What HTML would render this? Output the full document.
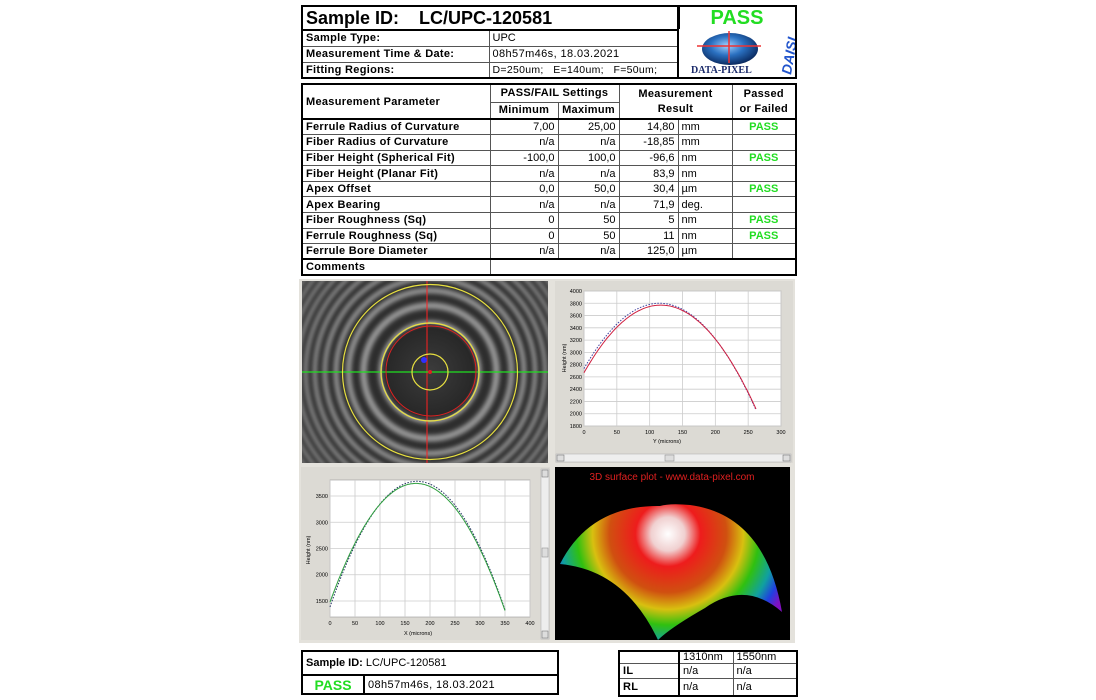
<!DOCTYPE html>
<html><head><meta charset="utf-8">
<style>
body{margin:0;width:1096px;height:700px;background:#fff;position:relative;overflow:hidden;font-family:"Liberation Sans",Arial,sans-serif;}
.a{position:absolute;}
table{border-collapse:collapse;table-layout:fixed;position:absolute;}
td{border:1px solid #555;padding:0 3px;font-size:11px;white-space:nowrap;overflow:hidden;line-height:14px;}
.b{font-weight:bold;letter-spacing:0.3px;}
.r{text-align:right;}
.c{text-align:center;}
.g{color:#22dd22;font-weight:bold;}
</style></head><body>

<table style="left:301px;top:5px;width:377px;border:2px solid #000;">
<colgroup><col style="width:187px"><col style="width:190px"></colgroup>
<tr style="height:24px"><td colspan="2" style="border-bottom:2px solid #000;font-size:18px;font-weight:bold;line-height:22px;">Sample ID:&nbsp;&nbsp;&nbsp;&nbsp;LC/UPC-120581</td></tr>
<tr style="height:16px"><td class="b">Sample Type:</td><td>UPC</td></tr>
<tr style="height:16px"><td class="b">Measurement Time &amp; Date:</td><td style="letter-spacing:0.4px">08h57m46s, 18.03.2021</td></tr>
<tr style="height:16px"><td class="b">Fitting Regions:</td><td style="font-size:10.5px;letter-spacing:0.3px">D=250um;&nbsp;&nbsp; E=140um;&nbsp;&nbsp; F=50um;</td></tr>
</table>
<div class="a" style="left:677px;top:5px;width:116px;height:22px;border:2px solid #000;text-align:center;font-size:20px;font-weight:bold;color:#22dd22;line-height:22px;">PASS</div>
<div class="a" style="left:677px;top:29px;width:116px;height:48px;border:2px solid #000;border-top:none;background:#fff;">
<svg width="116" height="48" viewBox="0 0 116 48">
<defs><radialGradient id="gl" cx="45%" cy="40%" r="60%"><stop offset="0" stop-color="#9fd0ff"/><stop offset="0.5" stop-color="#2a70c0"/><stop offset="1" stop-color="#0a2a60"/></radialGradient></defs>
<ellipse cx="51" cy="20" rx="28" ry="16" fill="url(#gl)"/>
<line x1="50" y1="2" x2="50" y2="34" stroke="#e33" stroke-width="1.5"/>
<line x1="18" y1="17" x2="82" y2="17" stroke="#e33" stroke-width="1.5"/>
<text x="12" y="44" font-family="Liberation Serif" font-weight="bold" font-size="10" fill="#1a2a6a">DATA-PIXEL</text>
<text transform="translate(112,46) rotate(-80)" font-family="Liberation Sans" font-style="italic" font-weight="bold" font-size="14" fill="#2255cc">DAISI</text>
</svg></div>

<table style="left:301px;top:83px;width:494px;border:2px solid #000;">
<colgroup><col style="width:188px"><col style="width:68px"><col style="width:61px"><col style="width:59px"><col style="width:54px"><col style="width:64px"></colgroup>
<tr style="height:18px"><td rowspan="2" class="b" style="border-bottom:2px solid #000">Measurement Parameter</td><td colspan="2" class="b c">PASS/FAIL Settings</td><td colspan="2" rowspan="2" class="b c" style="white-space:normal;line-height:15px;border-bottom:2px solid #000">Measurement<br>Result</td><td rowspan="2" class="b c" style="line-height:15px;border-bottom:2px solid #000">Passed<br>or Failed</td></tr>
<tr style="height:17px"><td class="b c" style="border-bottom:2px solid #000">Minimum</td><td class="b c" style="border-bottom:2px solid #000">Maximum</td></tr>
<tr style="height:15.6px"><td class="b">Ferrule Radius of Curvature</td><td class="r">7,00</td><td class="r">25,00</td><td class="r">14,80</td><td>mm</td><td class="c g">PASS</td></tr>
<tr style="height:15.6px"><td class="b">Fiber Radius of Curvature</td><td class="r">n/a</td><td class="r">n/a</td><td class="r">-18,85</td><td>mm</td><td></td></tr>
<tr style="height:15.6px"><td class="b">Fiber Height (Spherical Fit)</td><td class="r">-100,0</td><td class="r">100,0</td><td class="r">-96,6</td><td>nm</td><td class="c g">PASS</td></tr>
<tr style="height:15.6px"><td class="b">Fiber Height (Planar Fit)</td><td class="r">n/a</td><td class="r">n/a</td><td class="r">83,9</td><td>nm</td><td></td></tr>
<tr style="height:15.6px"><td class="b">Apex Offset</td><td class="r">0,0</td><td class="r">50,0</td><td class="r">30,4</td><td>µm</td><td class="c g">PASS</td></tr>
<tr style="height:15.6px"><td class="b">Apex Bearing</td><td class="r">n/a</td><td class="r">n/a</td><td class="r">71,9</td><td>deg.</td><td></td></tr>
<tr style="height:15.6px"><td class="b">Fiber Roughness (Sq)</td><td class="r">0</td><td class="r">50</td><td class="r">5</td><td>nm</td><td class="c g">PASS</td></tr>
<tr style="height:15.6px"><td class="b">Ferrule Roughness (Sq)</td><td class="r">0</td><td class="r">50</td><td class="r">11</td><td>nm</td><td class="c g">PASS</td></tr>
<tr style="height:15.6px"><td class="b" style="border-bottom:2px solid #000">Ferrule Bore Diameter</td><td class="r" style="border-bottom:2px solid #000">n/a</td><td class="r" style="border-bottom:2px solid #000">n/a</td><td class="r" style="border-bottom:2px solid #000">125,0</td><td style="border-bottom:2px solid #000">µm</td><td style="border-bottom:2px solid #000"></td></tr>
<tr style="height:16px"><td class="b">Comments</td><td colspan="5"></td></tr>
</table>

<div class="a" style="left:299px;top:279px;width:496px;height:364px;background:#e4e2dc;"></div>

<svg class="a" style="left:302px;top:281px" width="246" height="182" viewBox="302 281 246 182">
<defs><filter id="bl"><feGaussianBlur stdDeviation="2"/></filter>
<radialGradient id="cd" cx="430" cy="372" r="58" gradientUnits="userSpaceOnUse"><stop offset="0" stop-color="#3c3c3c"/><stop offset="0.75" stop-color="#282828"/><stop offset="1" stop-color="#282828" stop-opacity="0"/></radialGradient></defs>
<rect x="302" y="281" width="246" height="182" fill="#2e2e2e"/>
<g id="rings" filter="url(#bl)" fill="none" stroke="#969696"></g>
<circle cx="430" cy="372" r="48" fill="url(#cd)"/>
<line x1="427" y1="281" x2="427" y2="463" stroke="#ff2020" stroke-width="1"/>
<line x1="302" y1="372" x2="548" y2="372" stroke="#20e020" stroke-width="1.2"/>
<circle cx="431" cy="371" r="45" fill="none" stroke="#e02020" stroke-width="1"/>
<circle cx="430" cy="372" r="87.5" fill="none" stroke="#e8e040" stroke-width="1.2"/>
<circle cx="430" cy="372" r="49" fill="none" stroke="#e8e040" stroke-width="1.2"/>
<circle cx="430" cy="372" r="18" fill="none" stroke="#e8e040" stroke-width="1.2"/>
<circle cx="424" cy="360" r="3" fill="#3030ff"/>
<circle cx="430" cy="372" r="2" fill="#e02020"/>
</svg>

<div class="a" style="left:555px;top:281px;width:238px;height:182px;background:#dcdad4;"></div>
<svg class="a" style="left:555px;top:281px" width="238" height="182" viewBox="555 281 238 182" font-family="Liberation Sans" font-size="5.5">
<rect x="584" y="291" width="197" height="135" fill="#fff" stroke="#999" stroke-width="0.6"/>
<g id="rcg"></g>
<text x="667" y="443" text-anchor="middle">Y (microns)</text>
<text transform="translate(566,358) rotate(-90)" text-anchor="middle">Height (nm)</text>
<rect x="556" y="454" width="235" height="8" fill="#eee" stroke="#aaa" stroke-width="0.5"/>
<rect x="557" y="455" width="7" height="6" fill="#ddd" stroke="#666" stroke-width="0.5"/>
<rect x="783" y="455" width="7" height="6" fill="#ddd" stroke="#666" stroke-width="0.5"/>
<rect x="665" y="455" width="9" height="6" fill="#ddd" stroke="#888" stroke-width="0.5"/>
</svg>

<div class="a" style="left:301px;top:467px;width:249px;height:173px;background:#dcdad4;"></div>
<svg class="a" style="left:301px;top:467px" width="249" height="173" viewBox="301 467 249 173" font-family="Liberation Sans" font-size="5.5">
<rect x="330" y="480" width="200" height="137" fill="#fff" stroke="#999" stroke-width="0.6"/>
<g id="lcg"></g>
<text x="418" y="635" text-anchor="middle">X (microns)</text>
<text transform="translate(310,550) rotate(-90)" text-anchor="middle">Height (nm)</text>
<rect x="541" y="469" width="8" height="170" fill="#eee" stroke="#aaa" stroke-width="0.5"/>
<rect x="542" y="470" width="6" height="7" fill="#ddd" stroke="#666" stroke-width="0.5"/>
<rect x="542" y="631" width="6" height="7" fill="#ddd" stroke="#666" stroke-width="0.5"/>
<rect x="542" y="548" width="6" height="9" fill="#ddd" stroke="#888" stroke-width="0.5"/>
</svg>

<svg class="a" style="left:555px;top:467px" width="235" height="173" viewBox="555 467 235 173">
<defs><radialGradient id="sg" cx="668" cy="534" r="130" gradientUnits="userSpaceOnUse">
<stop offset="0" stop-color="#ffffff"/><stop offset="0.13" stop-color="#f0d0d0"/><stop offset="0.25" stop-color="#ee1c1c"/>
<stop offset="0.45" stop-color="#d05010"/><stop offset="0.58" stop-color="#d8c010"/><stop offset="0.7" stop-color="#30c010"/>
<stop offset="0.83" stop-color="#10a0a0"/><stop offset="0.92" stop-color="#2040e0"/><stop offset="1" stop-color="#8010c0"/></radialGradient></defs>
<rect x="555" y="467" width="235" height="173" fill="#000"/>
<text x="672" y="480" text-anchor="middle" font-family="Liberation Sans" font-size="10" fill="#e02020">3D surface plot - www.data-pixel.com</text>
<path d="M560,564 Q590,505 660,506 Q670,503 690,505 Q765,515 782,612 Q745,580 705,608 Q670,628 658,640 Q625,570 560,564 Z" fill="url(#sg)"/>
</svg>

<table style="left:301px;top:650px;width:256px;border:2px solid #000;">
<colgroup><col style="width:62px"><col style="width:194px"></colgroup>
<tr style="height:24px"><td colspan="2" style="border-bottom:2px solid #000;font-size:11px"><b>Sample ID:</b> LC/UPC-120581</td></tr>
<tr style="height:19px"><td class="c g" style="font-size:14px;border-right:2px solid #000">PASS</td><td style="letter-spacing:0.4px">08h57m46s, 18.03.2021</td></tr>
</table>
<table style="left:618px;top:650px;width:178px;border:2px solid #000;">
<colgroup><col style="width:60px"><col style="width:54px"><col style="width:64px"></colgroup>
<tr style="height:12px"><td style="border-right:2px solid #000"></td><td style="line-height:11px">1310nm</td><td style="line-height:11px">1550nm</td></tr>
<tr style="height:14px"><td class="b" style="border-right:2px solid #000">IL</td><td>n/a</td><td>n/a</td></tr>
<tr style="height:17px"><td class="b" style="border-right:2px solid #000">RL</td><td>n/a</td><td>n/a</td></tr>
</table>

<script>
var NS="http://www.w3.org/2000/svg";
function el(p,t,a){var e=document.createElementNS(NS,t);for(var k in a)e.setAttribute(k,a[k]);p.appendChild(e);return e;}
var rg=document.getElementById("rings");
for(var k=1;k<60;k++){var r=47*Math.sqrt(k);var sp=47*47/(2*r);el(rg,"circle",{cx:430,cy:372,r:r,"stroke-width":Math.max(2.5,sp*0.4)});}
function chart(gid,x0,x1,y0,y1,xmin,xmax,ymin,ymax,xt,yt,f,fr,xe,c1,c2){
 var g=document.getElementById(gid);
 function X(v){return x0+(v-xmin)/(xmax-xmin)*(x1-x0);} function Y(v){return y1-(v-ymin)/(ymax-ymin)*(y1-y0);}
 xt.forEach(function(v){el(g,"line",{x1:X(v),x2:X(v),y1:y0,y2:y1,stroke:"#ccc","stroke-width":0.8});var t=el(g,"text",{x:X(v),y:y1+8,"text-anchor":"middle"});t.textContent=v;});
 yt.forEach(function(v){el(g,"line",{x1:x0,x2:x1,y1:Y(v),y2:Y(v),stroke:"#ccc","stroke-width":0.8});var t=el(g,"text",{x:x0-2,y:Y(v)+2,"text-anchor":"end"});t.textContent=v;});
 var p1="",p2="";for(var v=0;v<=xe;v+=2){p1+=(v?"L":"M")+X(v).toFixed(1)+","+Y(f(v)).toFixed(1);p2+=(v?"L":"M")+X(v).toFixed(1)+","+Y(fr(v)).toFixed(1);}
 el(g,"path",{d:p2,fill:"none",stroke:c2,"stroke-width":1,"stroke-dasharray":"1.5,1.5"});
 el(g,"path",{d:p1,fill:"none",stroke:c1,"stroke-width":1});
}
chart("rcg",584,781,291,426,0,300,1800,4000,[0,50,100,150,200,250,300],[1800,2000,2200,2400,2600,2800,3000,3200,3400,3600,3800,4000],
 function(v){return 3770-0.0805*(v-117)*(v-117);},function(v){return 3800-0.0805*(v-115)*(v-115);},262,"#d02040","#4040a0");
chart("lcg",330,530,480,617,0,400,1195,3805,[0,50,100,150,200,250,300,350,400],[1500,2000,2500,3000,3500],
 function(v){return 3740-0.0765*(v-172)*(v-172);},function(v){return 3780-0.0790*(v-174)*(v-174);},350,"#30a040","#203060");
</script>
</body></html>
